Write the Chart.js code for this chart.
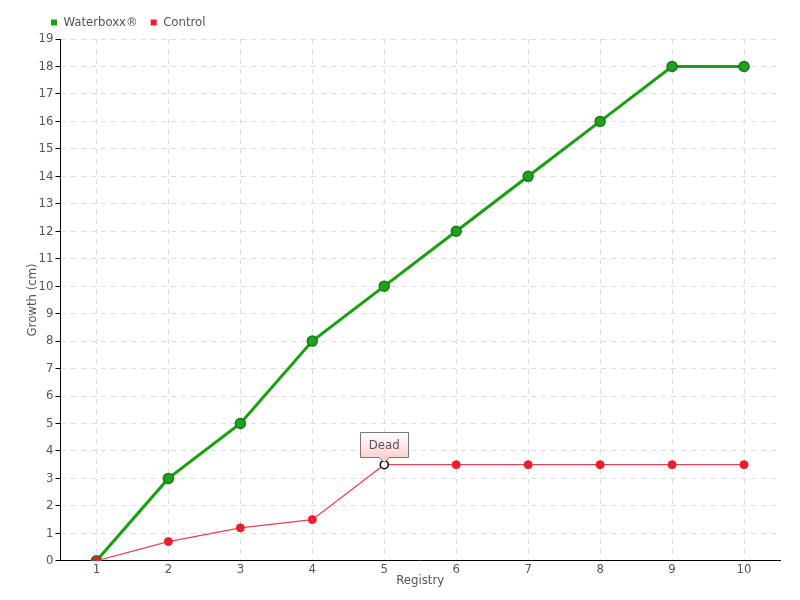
<!DOCTYPE html>
<html><head><meta charset="utf-8">
<script src="https://cdn.jsdelivr.net/npm/chart.js@4/dist/chart.umd.min.js"></script>
<style>html,body{margin:0;padding:0;background:#fff}#wrap{width:800px;height:600px}</style>
</head><body><div id="wrap"><canvas id="c" width="800" height="600"></canvas></div>
<script>
const categories = ['1','2','3','4','5','6','7','8','9','10'];
const waterboxx = [0,3,5,8,10,12,14,16,18,18];
const control = [0,0.7,1.2,1.5,3.5,3.5,3.5,3.5,3.5,3.5];
const yTicks = [0,1,2,3,4,5,6,7,8,9,10,11,12,13,14,15,16,17,18,19];
const annotationIndex = 4;
const annotationText = 'Dead';
const FONT = '"DejaVu Sans Condensed","Liberation Sans Narrow",sans-serif';

const deadPlugin = {
  id:'dead',
  afterLayout(chart){ chart.legend.left = 38; },
  afterDatasetsDraw(chart){
    const meta = chart.getDatasetMeta(1);
    const pt = meta.data[annotationIndex];
    const ctx = chart.ctx;
    const x = pt.x, y = pt.y;
    ctx.save();
    ctx.font = '13px '+FONT;
    const w = 48, h = 25;
    const bx = Math.round(x - w/2)+0.5, by = Math.round(y - 8 - h)+0.5;
    const g = ctx.createLinearGradient(0,by,0,by+h);
    g.addColorStop(0,'#ffffff'); g.addColorStop(1,'#ffd0d0');
    ctx.beginPath();
    ctx.moveTo(bx,by); ctx.lineTo(bx+w,by); ctx.lineTo(bx+w,by+h);
    ctx.lineTo(x+5,by+h); ctx.lineTo(x,by+h+5); ctx.lineTo(x-5,by+h); ctx.lineTo(bx,by+h); ctx.closePath();
    ctx.fillStyle = g; ctx.fill();
    ctx.strokeStyle = '#777'; ctx.lineWidth = 1; ctx.stroke();
    ctx.fillStyle = '#555'; ctx.textAlign='center'; ctx.textBaseline='middle';
    ctx.fillText(annotationText, x, by+h/2+1);
    ctx.restore();
  }
};

new Chart(document.getElementById('c'), {
  type:'line',
  data:{
    labels: categories,
    datasets:[
      {label:'Waterboxx®', data: waterboxx, borderColor:'#1aa00e', backgroundColor:'#1fa012',
       borderWidth:3, pointRadius:5, pointBackgroundColor:'#22a022', pointBorderColor:'#177a17', pointBorderWidth:1.5,
       tension:0, order:1},
      {label:'Control', data: control, borderColor:'#f04050', backgroundColor:'#ee1c2c',
       borderWidth:1.2, pointRadius:4,
       pointBackgroundColor: control.map((v,i)=> i===annotationIndex ? '#ffffff' : '#ee1c2c'),
       pointBorderColor: control.map((v,i)=> i===annotationIndex ? '#000000' : '#ee1c2c'),
       pointBorderWidth: control.map((v,i)=> i===annotationIndex ? 1.5 : 1),
       tension:0, order:0}
    ]
  },
  options:{
    responsive:false, animation:false,
    layout:{padding:{left:12,right:20,top:3,bottom:12}},
    plugins:{
      legend:{position:'top', align:'start',
        labels:{boxWidth:6, boxHeight:6, padding:13, color:'#555', font:{family:FONT,size:13},
          generateLabels(chart){
            return chart.data.datasets.map((d,i)=>({text:d.label, fillStyle:d.backgroundColor, strokeStyle:d.backgroundColor, lineWidth:0, datasetIndex:i, fontColor:'#555'}));
          }}},
      tooltip:{enabled:false}
    },
    scales:{
      x:{type:'category', offset:true,
        title:{display:true, text:'Registry', color:'#555', font:{family:FONT,size:13}, padding:{top:-6,bottom:0}},
        grid:{color:'#dddddd', drawTicks:false, offset:false},
        border:{color:'#000', width:1, dash:[5,5]},
        ticks:{color:'#555', font:{family:FONT,size:13}, padding:1}
      },
      y:{min:0, max:19,
        afterBuildTicks(scale){ scale.ticks = yTicks.map(v=>({value:v})); },
        afterFit(scale){ scale.width -= 4; },
        title:{display:true, text:'Growth (cm)', color:'#555', font:{family:FONT,size:13}, padding:{top:13,bottom:0}},
        grid:{color:'#dddddd', tickLength:5, tickColor:'#000'},
        border:{color:'#000', width:1, dash:[5,5]},
        ticks:{color:'#555', font:{family:FONT,size:13}, padding:2}
      }
    }
  },
  plugins:[deadPlugin]
});
</script></body></html>
